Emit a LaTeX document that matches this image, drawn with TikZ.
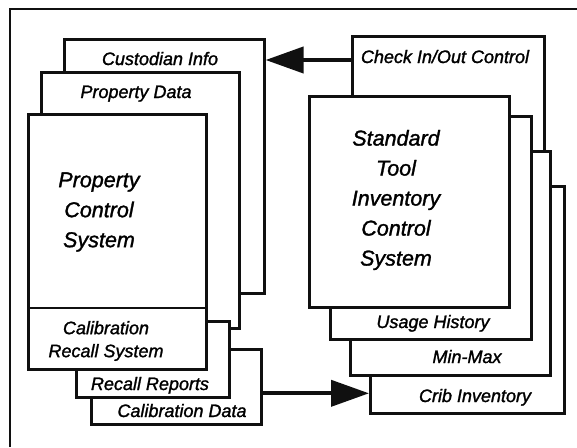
\documentclass[tikz,border=0pt]{standalone}
\usepackage{fontspec}
\setmainfont{Liberation Sans}[ItalicFeatures={FakeBold=1.4}]
\usepackage{xcolor}
\usetikzlibrary{arrows.meta}
\definecolor{inkblack}{HTML}{101010}

\begin{document}
\begin{tikzpicture}[x=1pt,y=-1pt,
  sheet/.style={draw=inkblack,line width=2.6pt,fill=white,anchor=north west,inner sep=0pt},
  tag/.style={font=\itshape\fontsize{18}{23}\selectfont,anchor=base,align=center,inner sep=0pt},
  title/.style={font=\itshape\fontsize{21.5}{30}\selectfont,align=center,inner sep=0pt},
  flow/.style={inkblack,line width=4pt,-{Triangle[length=38pt,width=26pt]}}]
  \useasboundingbox (0,0) rectangle (577,447);
  \draw[inkblack,line width=1.6pt] (10,447) -- (10,9) -- (577,9);

  % left stack
  \node[sheet,minimum width=200pt,minimum height=254pt] (cust) at (63,38) {};
  \node[sheet,minimum width=198pt,minimum height=256pt] (prop) at (40,71) {};
  \node[sheet,minimum width=170pt,minimum height=75pt] (caldata) at (90,348) {};
  \node[sheet,minimum width=153pt,minimum height=76pt] (recall) at (75,320) {};
  \node[sheet,minimum width=178pt,minimum height=255pt] (pcs) at (27,113) {};
  \draw[inkblack,line width=2.6pt] (pcs.west |- 0,308) -- (pcs.east |- 0,308);

  \node[tag] (custlbl) at (160,65) {Custodian Info};
  \node[tag] (proplbl) at (136,98) {Property Data};
  \node[tag,anchor=center] (callbl) at (106,341) {Calibration\\Recall System};
  \node[tag] (recalllbl) at (150,390) {Recall Reports};
  \node[tag] (cdlbl) at (182,417) {Calibration Data};
  \node[title] (pcslbl) at (99,212) {Property\\Control\\System};

  % right stack
  \node[sheet,minimum width=192pt,minimum height=325pt] (check) at (351,35) {};
  \node[sheet,minimum width=194pt,minimum height=227pt] (crib) at (369,185) {};
  \node[sheet,minimum width=200pt,minimum height=224pt] (minmax) at (349,150) {};
  \node[sheet,minimum width=201pt,minimum height=223pt] (usage) at (329,115) {};
  \node[sheet,minimum width=200pt,minimum height=211pt] (stool) at (308,95) {};

  \node[tag] (checklbl) at (445,63) {Check In/Out Control};
  \node[tag] (usagelbl) at (433,328) {Usage History};
  \node[tag] (mmlbl) at (467,363) {Min-Max};
  \node[tag] (criblbl) at (475,402) {Crib Inventory};
  \node[title] (stoollbl) at (396,200) {Standard\\Tool\\Inventory\\Control\\System};

  % data flows
  \coordinate (ciout) at ([yshift=-25pt]check.north west);
  \coordinate (cdout) at ([yshift=-6.5pt]caldata.east);
  \draw[flow] (ciout) -- (ciout -| cust.east);
  \draw[flow] (cdout) -- (cdout -| crib.west);
\end{tikzpicture}
\end{document}
